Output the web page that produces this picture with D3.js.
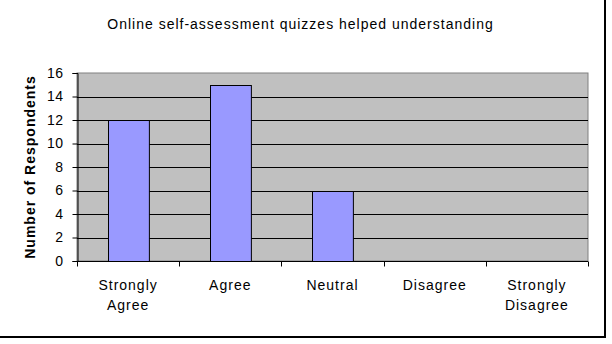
<!DOCTYPE html>
<html>
<head>
<meta charset="utf-8">
<script src="https://cdn.jsdelivr.net/npm/d3@7"></script>
<style>
  body { margin: 0; background: #fff; }
  svg { display: block; font-family: Arial, "Liberation Sans", sans-serif; }
</style>
</head>
<body>
<div id="chart"></div>
<script>
// 数据
const categories = [['Strongly', 'Agree'], ['Agree'], ['Neutral'], ['Disagree'], ['Strongly', 'Disagree']];
const respondents = [12, 15, 6, 0, 0];
const yTicks = [0, 2, 4, 6, 8, 10, 12, 14, 16];
const title = 'Online self-assessment quizzes helped understanding';
const yLabel = 'Number of Respondents';

const width = 612, height = 344;
const plot = { left: 77, right: 588, top: 73, bottom: 261 };
const font = 'Arial, "Liberation Sans", sans-serif';

const svg = d3.select('#chart').append('svg')
    .attr('width', width)
    .attr('height', height);

// 外框
svg.append('rect')
    .attr('x', -2).attr('y', -2)
    .attr('width', 607).attr('height', 339)
    .attr('fill', '#fff')
    .attr('stroke', '#000')
    .attr('stroke-width', 2);

const x = d3.scaleBand()
    .domain(d3.range(categories.length))
    .range([plot.left, plot.right])
    .paddingInner(0.6)
    .paddingOuter(0.3);

const xOuter = d3.scaleBand()
    .domain(d3.range(categories.length))
    .range([plot.left, plot.right]);

const y = d3.scaleLinear()
    .domain([0, 16])
    .range([plot.bottom, plot.top]);

// 绘图区背景
svg.append('rect')
    .attr('x', plot.left).attr('y', plot.top)
    .attr('width', plot.right - plot.left)
    .attr('height', plot.bottom - plot.top)
    .attr('fill', '#c0c0c0')
    .attr('stroke', '#808080')
    .attr('stroke-width', 1);

// 网格线
svg.selectAll('.grid')
    .data(yTicks.filter(t => t > 0 && t < 16))
    .enter().append('line')
    .attr('class', 'grid')
    .attr('x1', plot.left).attr('x2', plot.right)
    .attr('y1', d => Math.round(y(d)) + 0.5)
    .attr('y2', d => Math.round(y(d)) + 0.5)
    .attr('stroke', '#000')
    .attr('stroke-width', 1);

// 柱子
svg.selectAll('.bar')
    .data(respondents)
    .enter().append('rect')
    .attr('class', 'bar')
    .attr('x', (d, i) => Math.round(x(i)) + 0.5)
    .attr('y', d => Math.round(y(d)) + 0.5)
    .attr('width', x.bandwidth())
    .attr('height', d => y(0) - Math.round(y(d)))
    .attr('fill', '#9999ff')
    .attr('stroke', '#000')
    .attr('stroke-width', 1)
    .style('display', d => d > 0 ? null : 'none');

// Y轴
const yAxis = svg.append('g')
    .attr('transform', `translate(${plot.left + 0.5},0)`)
    .call(d3.axisLeft(y).tickValues(yTicks).tickSize(5).tickPadding(9));
yAxis.select('.domain').attr('stroke', '#000');
yAxis.selectAll('line').attr('stroke', '#000');
yAxis.selectAll('text')
    .attr('font-size', '14px')
    .attr('letter-spacing', '0.5px')
    .attr('fill', '#000')
    .attr('font-family', font);

// X轴
const xAxis = svg.append('g')
    .attr('transform', `translate(0,${plot.bottom + 0.5})`);
xAxis.append('line')
    .attr('x1', plot.left).attr('x2', plot.right)
    .attr('stroke', '#000');
xAxis.selectAll('.tick')
    .data(d3.range(categories.length + 1))
    .enter().append('line')
    .attr('x1', i => Math.round(plot.left + i * xOuter.step()) + 0.5)
    .attr('x2', i => Math.round(plot.left + i * xOuter.step()) + 0.5)
    .attr('y1', 0).attr('y2', 5)
    .attr('stroke', '#000');

// X轴标签
const labels = svg.selectAll('.x-label')
    .data(categories)
    .enter().append('text')
    .attr('class', 'x-label')
    .attr('text-anchor', 'middle')
    .attr('font-size', '14px')
    .attr('letter-spacing', '1px')
    .attr('fill', '#000');
labels.selectAll('tspan')
    .data((d, i) => d.map(line => ({ line, i })))
    .enter().append('tspan')
    .attr('x', d => xOuter(d.i) + xOuter.bandwidth() / 2)
    .attr('y', (d, j) => 290 + j * 20)
    .text(d => d.line);

// 标题
svg.append('text')
    .attr('x', 300.5)
    .attr('y', 29)
    .attr('text-anchor', 'middle')
    .attr('font-size', '14px')
    .attr('letter-spacing', '1px')
    .attr('fill', '#000')
    .text(title);

// Y轴标题
svg.append('text')
    .attr('transform', `translate(35,${(plot.top + plot.bottom) / 2}) rotate(-90)`)
    .attr('text-anchor', 'middle')
    .attr('font-size', '14px')
    .attr('font-weight', 'bold')
    .attr('letter-spacing', '1px')
    .attr('fill', '#000')
    .text(yLabel);
</script>
</body>
</html>
